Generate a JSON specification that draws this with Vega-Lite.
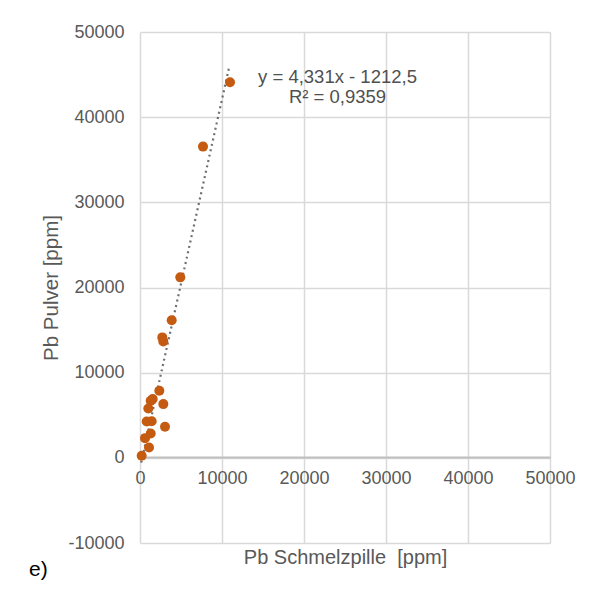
{
  "$schema": "https://vega.github.io/schema/vega-lite/v6.json",
  "width": 410,
  "height": 511,
  "autosize": {"type": "none"},
  "padding": {"left": 140, "top": 32, "right": 46, "bottom": 46},
  "background": "white",
  "config": {
    "view": {"stroke": null},
    "font": "Liberation Sans",
    "axis": {"labelFont": "Liberation Sans", "titleFont": "Liberation Sans"}
  },
  "title": {
    "text": "e)",
    "orient": "bottom",
    "anchor": "start",
    "frame": "group",
    "dx": -111,
    "dy": -12,
    "offset": 4,
    "fontSize": 21,
    "fontWeight": "normal",
    "color": "#000000",
    "font": "Liberation Sans"
  },
  "datasets": {
    "points": [
      {"schmelz": 10976, "pulver": 44100},
      {"schmelz": 7683, "pulver": 36545},
      {"schmelz": 4915, "pulver": 21190},
      {"schmelz": 3866, "pulver": 16150},
      {"schmelz": 2720, "pulver": 14140},
      {"schmelz": 2840, "pulver": 13670},
      {"schmelz": 2357, "pulver": 7870},
      {"schmelz": 1549, "pulver": 6900},
      {"schmelz": 1305, "pulver": 6700},
      {"schmelz": 2845, "pulver": 6310},
      {"schmelz": 1015, "pulver": 5790},
      {"schmelz": 817, "pulver": 4270},
      {"schmelz": 1427, "pulver": 4300},
      {"schmelz": 3049, "pulver": 3640},
      {"schmelz": 1305, "pulver": 2860},
      {"schmelz": 610, "pulver": 2310},
      {"schmelz": 1098, "pulver": 1210},
      {"schmelz": 207, "pulver": 235}
    ],
    "trend": [
      {"schmelz": 150, "pulver": -563},
      {"schmelz": 10900, "pulver": 45995}
    ],
    "labels": [
      {"schmelz": 24085, "pulver": 44770, "text": "y = 4,331x - 1212,5"},
      {"schmelz": 24085, "pulver": 42420, "text": "R² = 0,9359"}
    ]
  },
  "resolve": {"axis": {"x": "independent", "y": "independent"}},
  "layer": [
    {
      "data": {"name": "trend"},
      "mark": {"type": "line", "color": "#6f6f6f", "strokeWidth": 2.2, "strokeDash": [2, 3.5], "clip": false},
      "encoding": {
        "x": {
          "field": "schmelz", "type": "quantitative",
          "scale": {"domain": [0, 50000], "nice": false, "zero": false},
          "axis": {
            "orient": "bottom",
            "title": null, "labels": false, "ticks": false, "domain": false,
            "grid": true, "gridColor": "#d9d9d9", "gridWidth": 1.5,
            "values": [0, 10000, 20000, 30000, 40000, 50000]
          }
        },
        "y": {
          "field": "pulver", "type": "quantitative",
          "scale": {"domain": [-10000, 50000], "nice": false, "zero": false},
          "axis": {
            "orient": "left",
            "labelExpr": "'' + datum.value",
            "title": "Pb Pulver [ppm]", "titleFontSize": 20.5, "titleColor": "#595959", "titleFontWeight": "normal",
            "titlePadding": 6,
            "labelFontSize": 18, "labelColor": "#595959", "labelPadding": 16,
            "ticks": false, "domain": false,
            "grid": true, "gridColor": "#d9d9d9", "gridWidth": 1.5,
            "values": [-10000, 0, 10000, 20000, 30000, 40000, 50000]
          }
        }
      }
    },
    {
      "data": {"name": "points"},
      "mark": {"type": "point", "filled": true, "shape": "circle", "size": 100, "color": "#c55a11", "opacity": 1},
      "encoding": {
        "x": {
          "field": "schmelz", "type": "quantitative",
          "axis": {
            "orient": "bottom",
            "labelExpr": "'' + datum.value",
            "labelFlush": false,
            "labelOverlap": false,
            "title": "Pb Schmelzpille\u00a0\u00a0[ppm]", "titleFontSize": 20, "titleColor": "#595959", "titleFontWeight": "normal",
            "titlePadding": 60,
            "offset": -86,
            "labelFontSize": 18, "labelColor": "#595959", "labelPadding": 12,
            "ticks": false, "domain": true, "domainColor": "#bfbfbf", "domainWidth": 2,
            "grid": false,
            "values": [0, 10000, 20000, 30000, 40000, 50000]
          }
        },
        "y": {
          "field": "pulver", "type": "quantitative",
          "axis": null
        }
      }
    },
    {
      "data": {"name": "labels"},
      "mark": {"type": "text", "fontSize": 18.5, "color": "#505050", "align": "center", "baseline": "middle", "font": "Liberation Sans"},
      "encoding": {
        "x": {"field": "schmelz", "type": "quantitative", "axis": null},
        "y": {"field": "pulver", "type": "quantitative", "axis": null},
        "text": {"field": "text"}
      }
    }
  ]
}
